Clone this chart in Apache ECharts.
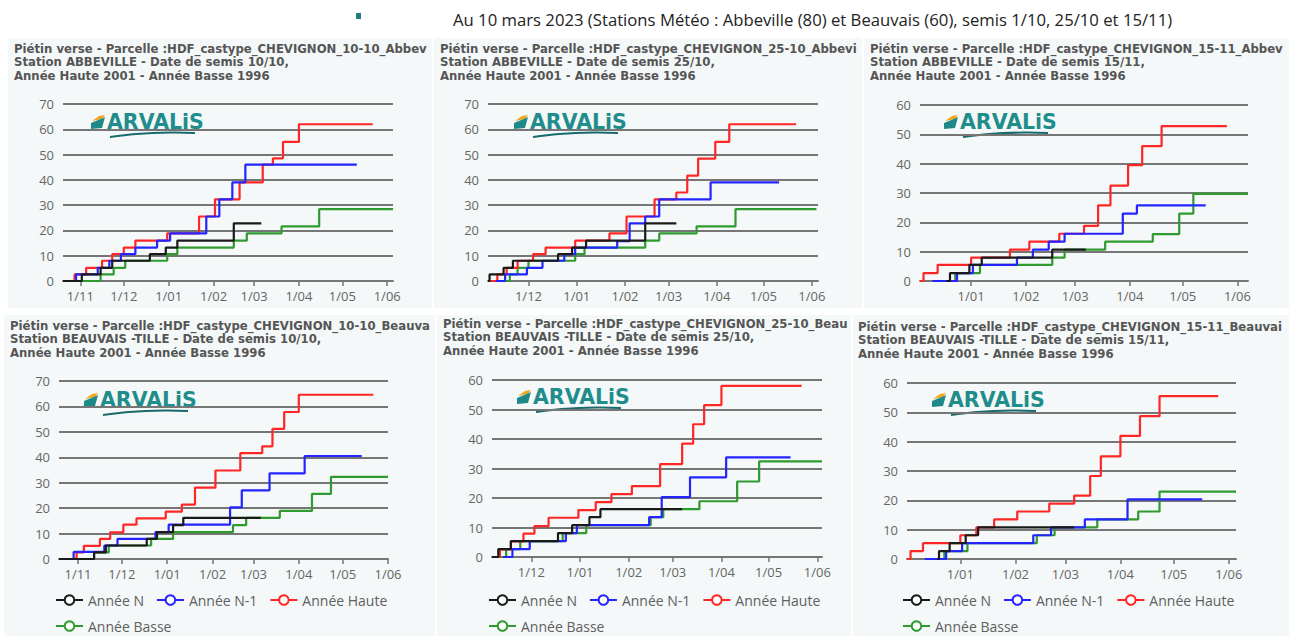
<!DOCTYPE html>
<html><head><meta charset="utf-8">
<script src="https://cdn.jsdelivr.net/npm/echarts@6/dist/echarts.min.js"></script>
<style>
html,body{margin:0;padding:0;background:#fff;width:1289px;height:636px;overflow:hidden;font-family:'Open Sans',sans-serif;}
.panel{position:absolute;background:#f4f8f8;overflow:hidden;}
#hdr{position:absolute;left:453px;top:9px;font-size:16.7px;color:#222;white-space:nowrap;line-height:22px;font-family:'Open Sans',sans-serif;}
#sq{position:absolute;left:356px;top:13px;width:5px;height:6px;background:#1b7f7c;}
</style></head><body>
<div id="sq"></div>
<div id="hdr">Au 10 mars 2023 (Stations Météo : Abbeville (80) et Beauvais (60), semis 1/10, 25/10 et 15/11)</div>
<div class="panel" id="p1" style="left:8px;top:38px;width:424px;height:270px"></div>
<div class="panel" id="p2" style="left:434px;top:38px;width:428px;height:270px"></div>
<div class="panel" id="p3" style="left:864px;top:38px;width:425px;height:270px"></div>
<div class="panel" id="p4" style="left:4px;top:315px;width:431px;height:321px"></div>
<div class="panel" id="p5" style="left:437px;top:315px;width:414px;height:321px"></div>
<div class="panel" id="p6" style="left:853px;top:315px;width:436px;height:321px"></div>
<script>
// ---------- DATA ----------
const seriesNames = ['Année N', 'Année N-1', 'Année Haute', 'Année Basse'];
const panelTitles = [
  'Piétin verse - Parcelle :HDF_castype_CHEVIGNON_10-10_Abbeville\nStation ABBEVILLE - Date de semis 10/10,\nAnnée Haute 2001 - Année Basse 1996',
  'Piétin verse - Parcelle :HDF_castype_CHEVIGNON_25-10_Abbeville\nStation ABBEVILLE - Date de semis 25/10,\nAnnée Haute 2001 - Année Basse 1996',
  'Piétin verse - Parcelle :HDF_castype_CHEVIGNON_15-11_Abbeville\nStation ABBEVILLE - Date de semis 15/11,\nAnnée Haute 2001 - Année Basse 1996',
  'Piétin verse - Parcelle :HDF_castype_CHEVIGNON_10-10_Beauvais\nStation BEAUVAIS -TILLE - Date de semis 10/10,\nAnnée Haute 2001 - Année Basse 1996',
  'Piétin verse - Parcelle :HDF_castype_CHEVIGNON_25-10_Beauvais\nStation BEAUVAIS -TILLE - Date de semis 25/10,\nAnnée Haute 2001 - Année Basse 1996',
  'Piétin verse - Parcelle :HDF_castype_CHEVIGNON_15-11_Beauvais\nStation BEAUVAIS -TILLE - Date de semis 15/11,\nAnnée Haute 2001 - Année Basse 1996'
];
const logoText = 'ARVALiS';

// tick dates (labels shown as d/MM)
const ticksNov = ['2022-11-01','2022-12-01','2023-01-01','2023-02-01','2023-03-01','2023-04-01','2023-05-01','2023-06-01'];
const ticksDec = ['2022-12-01','2023-01-01','2023-02-01','2023-03-01','2023-04-01','2023-05-01','2023-06-01'];
const ticksJan = ['2023-01-01','2023-02-01','2023-03-01','2023-04-01','2023-05-01','2023-06-01'];

const xRanges = [
  ['2022-10-20','2023-06-05'], ['2022-11-05','2023-06-05'], ['2022-12-03','2023-06-07'],
  ['2022-10-19','2023-06-01'], ['2022-11-06','2023-06-04'], ['2022-12-02','2023-06-05']
];
const yMaxes = [70, 70, 60, 70, 60, 60];

// Panel 1 : Abbeville, semis 10/10
const p1N = [['2022-10-20',0],['2022-11-02',2.6],['2022-11-15',5.2],['2022-11-23',8],['2022-12-19',10.6],['2022-12-30',13.2],['2023-01-07',16],['2023-02-15',22.8],['2023-03-06',22.8]];
const p1N1 = [['2022-10-26',0],['2022-10-29',2.6],['2022-11-13',5.2],['2022-11-21',8],['2022-11-29',10.6],['2022-12-09',13.2],['2022-12-24',16],['2023-01-02',18.8],['2023-01-27',25.5],['2023-02-05',32.3],['2023-02-14',39],['2023-02-23',46],['2023-05-11',46]];
const p1H = [['2022-10-21',0],['2022-10-28',2.6],['2022-11-05',5.2],['2022-11-16',8],['2022-11-23',10.6],['2022-12-01',13.2],['2022-12-09',16],['2022-12-31',18.8],['2023-01-22',25.5],['2023-02-02',32.3],['2023-02-19',39],['2023-03-07',46],['2023-03-14',48.5],['2023-03-21',55],['2023-04-01',62],['2023-05-22',62]];
const p1B = [['2022-10-20',0],['2022-11-15',2.6],['2022-11-24',5.2],['2022-12-02',8],['2022-12-31',10.6],['2023-01-07',13.2],['2023-02-15',16],['2023-02-24',18.8],['2023-03-20',21.6],['2023-04-15',28.4],['2023-06-05',28.4]];

// Panel 2 : Abbeville, semis 25/10
const p2N = [['2022-11-05',0],['2022-11-06',2.6],['2022-11-15',5.2],['2022-11-21',8],['2022-12-20',10.6],['2022-12-29',13.2],['2023-01-07',16],['2023-02-14',22.8],['2023-03-06',22.8]];
const p2N1 = [['2022-11-10',0],['2022-11-16',2.6],['2022-11-30',5.2],['2022-12-10',8],['2022-12-24',10.6],['2022-12-31',13.2],['2023-01-27',15.8],['2023-02-04',22.8],['2023-02-14',25.5],['2023-02-23',32.3],['2023-03-28',39],['2023-05-11',39]];
const p2H = [['2022-11-05',0],['2022-11-11',2.6],['2022-11-17',5.2],['2022-11-24',8],['2022-12-04',10.6],['2022-12-12',13.2],['2022-12-31',16],['2023-01-22',18.8],['2023-02-02',25.5],['2023-02-20',32.3],['2023-03-06',35],['2023-03-13',41.7],['2023-03-20',48.4],['2023-03-31',55],['2023-04-09',62],['2023-05-22',62]];
const p2B = [['2022-11-05',0],['2022-11-19',2.6],['2022-11-24',5.2],['2022-12-01',8],['2022-12-31',10.6],['2023-01-06',13.2],['2023-02-14',16],['2023-02-23',18.8],['2023-03-19',21.6],['2023-04-13',28.4],['2023-06-04',28.4]];

// Panel 3 : Abbeville, semis 15/11
const p3N = [['2022-12-18',0],['2022-12-20',2.7],['2022-12-31',5.5],['2023-01-07',8],['2023-02-16',10.7],['2023-03-07',10.7]];
const p3N1 = [['2022-12-10',0],['2022-12-24',2.7],['2023-01-02',5.5],['2023-01-27',8],['2023-02-05',10.7],['2023-02-14',13.4],['2023-02-23',16.1],['2023-03-28',23],['2023-04-05',25.8],['2023-05-14',25.8]];
const p3H = [['2022-12-03',0],['2022-12-05',2.7],['2022-12-13',5.5],['2023-01-01',8],['2023-01-23',10.7],['2023-02-03',13.4],['2023-02-20',16.1],['2023-03-06',18.8],['2023-03-14',25.8],['2023-03-21',32.5],['2023-03-31',39.5],['2023-04-08',46],['2023-04-19',52.8],['2023-05-26',52.8]];
const p3B = [['2022-12-19',0],['2022-12-23',2.7],['2023-01-06',5.5],['2023-02-16',8],['2023-02-23',10.7],['2023-03-18',13.4],['2023-04-14',16],['2023-04-29',23],['2023-05-07',29.7],['2023-06-07',29.7]];

// Panel 4 : Beauvais, semis 10/10
const p4N = [['2022-10-19',0],['2022-11-12',2.6],['2022-11-20',5.3],['2022-12-18',7.9],['2022-12-25',10.6],['2023-01-05',13.3],['2023-01-12',16.2],['2023-03-06',16.2]];
const p4N1 = [['2022-10-19',0],['2022-10-29',2.8],['2022-11-19',5.3],['2022-11-28',7.9],['2022-12-24',10.6],['2023-01-02',13.5],['2023-02-13',20.3],['2023-02-21',27],['2023-03-12',33.7],['2023-04-05',40.5],['2023-05-14',40.5]];
const p4H = [['2022-10-19',0],['2022-10-31',2.6],['2022-11-05',5.2],['2022-11-16',7.9],['2022-11-23',10.5],['2022-12-02',13.5],['2022-12-11',16],['2022-12-31',18.6],['2023-01-11',21.4],['2023-01-20',28.1],['2023-02-03',34.8],['2023-02-20',41.6],['2023-03-07',44.3],['2023-03-14',51.2],['2023-03-22',57.8],['2023-04-01',64.6],['2023-05-22',64.6]];
const p4B = [['2022-10-19',0],['2022-11-12',2.6],['2022-11-22',5.3],['2022-12-21',7.9],['2023-01-05',10.6],['2023-02-15',13.3],['2023-02-24',16.2],['2023-03-19',18.9],['2023-04-10',25.6],['2023-04-23',32.3],['2023-06-01',32.3]];

// Panel 5 : Beauvais, semis 25/10
const p5N = [['2022-11-06',0],['2022-11-10',2.7],['2022-11-18',5.4],['2022-12-18',8.1],['2022-12-27',10.8],['2023-01-07',13.5],['2023-01-14',16.2],['2023-03-07',16.2]];
const p5N1 = [['2022-11-13',0],['2022-11-19',2.7],['2022-11-30',5.4],['2022-12-23',8.1],['2022-12-30',10.8],['2023-02-14',13.5],['2023-02-22',20.3],['2023-03-12',27],['2023-04-04',33.8],['2023-05-15',33.8]];
const p5H = [['2022-11-06',0],['2022-11-11',2.6],['2022-11-18',5.3],['2022-11-26',7.9],['2022-12-03',10.5],['2022-12-12',13.3],['2022-12-31',15.9],['2023-01-11',18.6],['2023-01-21',21.3],['2023-02-03',24],['2023-02-21',31.5],['2023-03-07',38.4],['2023-03-14',45],['2023-03-21',51.5],['2023-04-01',58],['2023-05-22',58]];
const p5B = [['2022-11-06',0],['2022-11-15',2.7],['2022-11-24',5.4],['2022-12-21',8.1],['2023-01-05',10.8],['2023-02-15',13.5],['2023-02-23',16.2],['2023-03-18',18.9],['2023-04-11',25.6],['2023-04-25',32.4],['2023-06-04',32.4]];

// Panel 6 : Beauvais, semis 15/11
const p6N = [['2022-12-19',0],['2022-12-20',2.7],['2022-12-26',5.4],['2023-01-04',8.1],['2023-01-11',10.8],['2023-03-06',10.8]];
const p6N1 = [['2022-12-12',0],['2022-12-24',2.7],['2023-01-02',5.4],['2023-02-11',8.1],['2023-02-21',10.8],['2023-03-12',13.5],['2023-04-05',20.3],['2023-05-17',20.3]];
const p6H = [['2022-12-02',0],['2022-12-04',2.7],['2022-12-11',5.4],['2023-01-01',8.1],['2023-01-10',10.8],['2023-01-20',13.5],['2023-02-02',16.2],['2023-02-20',18.9],['2023-03-06',21.6],['2023-03-15',28.3],['2023-03-21',35],['2023-04-01',42],['2023-04-12',48.7],['2023-04-23',55.5],['2023-05-26',55.5]];
const p6B = [['2022-12-19',0],['2022-12-23',2.7],['2023-01-05',5.4],['2023-02-13',8.1],['2023-02-23',10.8],['2023-03-19',13.5],['2023-04-11',16.2],['2023-04-23',23],['2023-06-05',23]];

// ---------- LAYOUT / STYLE ----------
const panelData = [
  [p1N, p1N1, p1H, p1B], [p2N, p2N1, p2H, p2B], [p3N, p3N1, p3H, p3B],
  [p4N, p4N1, p4H, p4B], [p5N, p5N1, p5H, p5B], [p6N, p6N1, p6H, p6B]
];
const panelTicks = [ticksNov, ticksDec, ticksJan, ticksNov, ticksDec, ticksJan];
const panelWidths = [424, 428, 425, 431, 414, 436];
const layouts = [
  {grid:{left:55,top:66,width:330,height:177}, title:{left:6,top:4}, logo:[99,85], legend:null},
  {grid:{left:54,top:66,width:330,height:177}, title:{left:6,top:4}, logo:[96,85], legend:null},
  {grid:{left:56,top:67,width:328,height:176}, title:{left:6,top:4}, logo:[96,85], legend:null},
  {grid:{left:55,top:66,width:329,height:178}, title:{left:6,top:4}, logo:[96,86], legend:{left:51,top:278}},
  {grid:{left:55,top:65,width:330,height:177}, title:{left:6,top:2}, logo:[96,83], legend:{left:51,top:278}},
  {grid:{left:54,top:68,width:329,height:176}, title:{left:5,top:5}, logo:[95,86], legend:{left:49,top:278}}
];
const lineColors = ['#1a1a1a', '#2424ff', '#ff2626', '#2f9a2f'];
const drawOrder = [3, 2, 1, 0]; // green below, black on top
const gridColor = '#767676';
const labelColor = '#666';

function ts(s) { const p = s.split('-'); return new Date(+p[0], +p[1] - 1, +p[2]).getTime(); }
function fmt(v) { const d = new Date(v); const m = d.getMonth() + 1; return d.getDate() + '/' + (m < 10 ? '0' + m : m); }

function logoGraphic(x, cy) {
  return [{
    type: 'group', x: x - 16, y: cy - 8, silent: true,
    children: [
      {type: 'polygon', shape: {points: [[1, 6], [8, 1], [14, 0], [11, 4]]}, style: {fill: '#f2a61e'}},
      {type: 'polygon', shape: {points: [[0, 8], [12, 3], [14, 2], [11, 13], [0, 14]]}, style: {fill: '#1e8a88'}},
      {type: 'text', x: 16, y: 7, style: {text: logoText, fontFamily: 'DejaVu Sans', fontWeight: 'bold', fontSize: 20.5, fill: '#1f8d8b', verticalAlign: 'middle', align: 'left'}},
      {type: 'polyline', shape: {points: [[19, 22], [45, 19], [80, 17.5], [104, 18]], smooth: 0.4}, style: {stroke: '#176b6a', lineWidth: 2, fill: null}}
    ]
  }];
}

for (let i = 0; i < 6; i++) {
  const L = layouts[i];
  const chart = echarts.init(document.getElementById('p' + (i + 1)), null, {renderer: 'svg'});
  const ticks = panelTicks[i].map(ts);
  const series = drawOrder.map(k => ({
    name: seriesNames[k],
    type: 'line',
    step: 'end',
    data: panelData[i][k].map(p => [ts(p[0]), p[1]]),
    showSymbol: false,
    symbol: 'emptyCircle',
    symbolSize: 8,
    lineStyle: {width: 2.2, color: lineColors[k]},
    itemStyle: {color: lineColors[k]},
    color: lineColors[k],
    animation: false
  }));
  const option = {
    animation: false,
    backgroundColor: 'transparent',
    title: {
      text: panelTitles[i], left: L.title.left, top: L.title.top, padding: 0,
      textStyle: {
        fontFamily: 'DejaVu Sans', fontWeight: 'bold', fontSize: 11.7, lineHeight: 13.6, color: '#555',
        width: panelWidths[i] - L.title.left - 1, overflow: 'truncate', ellipsis: ''
      }
    },
    grid: Object.assign({containLabel: false, outerBoundsMode: 'none'}, L.grid),
    xAxis: {
      type: 'value',
      min: ts(xRanges[i][0]), max: ts(xRanges[i][1]),
      axisLine: {show: true, lineStyle: {color: gridColor, width: 2}},
      axisTick: {show: true, length: 5, customValues: ticks, lineStyle: {color: gridColor, width: 1.5}},
      axisLabel: {customValues: ticks, formatter: v => fmt(v), color: labelColor, fontSize: 13, fontFamily: 'Open Sans', margin: 8, hideOverlap: false, showMinLabel: true, showMaxLabel: true},
      splitLine: {show: false}
    },
    yAxis: {
      type: 'value', min: 0, max: yMaxes[i], interval: 10,
      axisLine: {show: false}, axisTick: {show: false},
      axisLabel: {color: labelColor, fontSize: 13, fontFamily: 'Open Sans', margin: 9},
      splitLine: {show: true, lineStyle: {color: gridColor, width: 2}}
    },
    graphic: logoGraphic(L.logo[0], L.logo[1]),
    series: series
  };
  if (L.legend) {
    option.legend = {
      data: seriesNames, left: L.legend.left, top: L.legend.top, width: 350,
      itemWidth: 27, itemHeight: 12, itemGap: 12, padding: 0,
      textStyle: {color: '#606060', fontSize: 14, fontFamily: 'Open Sans'}
    };
  }
  chart.setOption(option);
}
</script>
</body></html>
